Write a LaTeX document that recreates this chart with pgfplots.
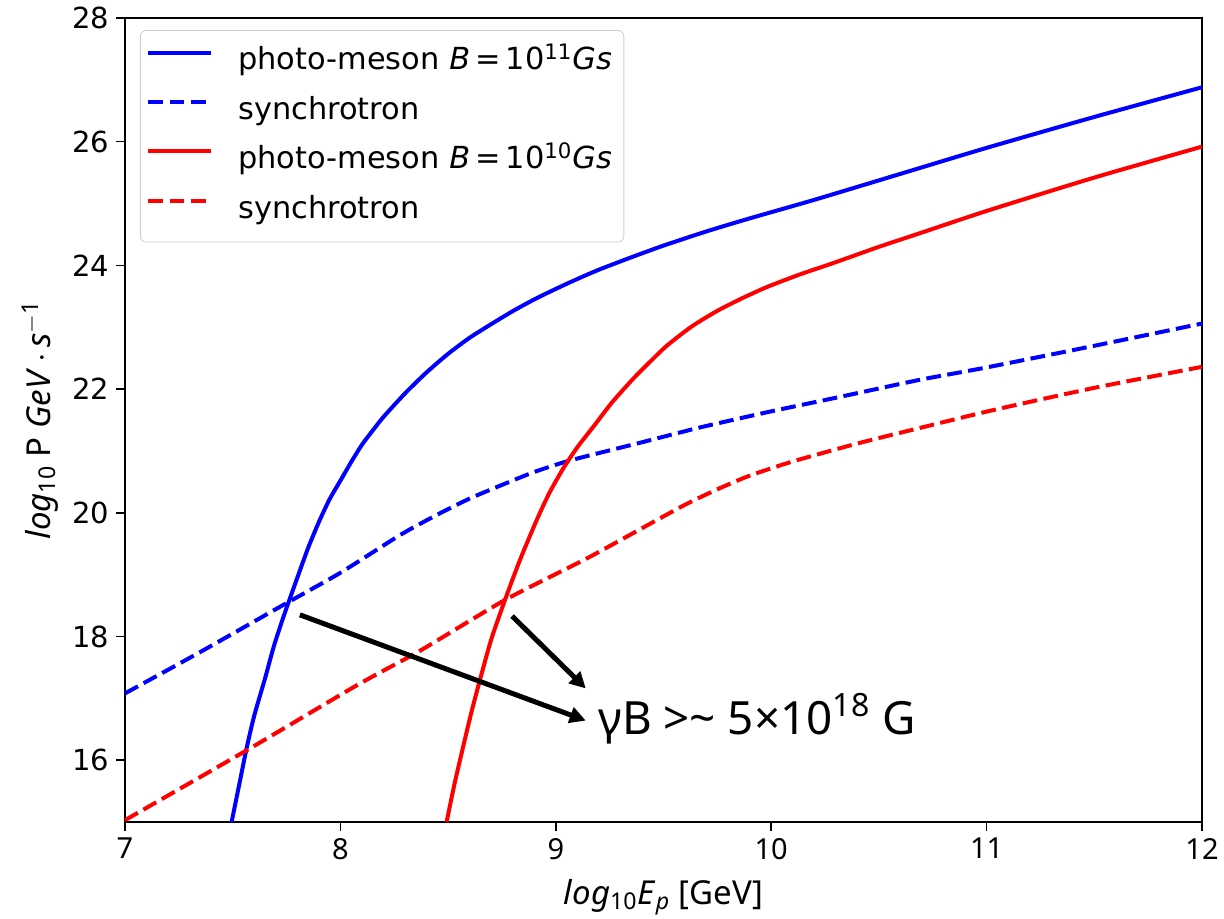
\documentclass[border=0pt]{standalone}
\usepackage{fontspec}
\setmainfont{DejaVu Sans}
\newfontfamily\notosans{Noto Sans}
\usepackage{pgfplots}
\pgfplotsset{compat=1.18}
\usetikzlibrary{arrows.meta}
\begin{document}
\begin{tikzpicture}
\path[use as bounding box] (-62.5pt,-48pt) rectangle (549.5pt,411pt);
\begin{axis}[
  scale only axis, width=538.5pt, height=402pt,
  xmin=7, xmax=12, ymin=15, ymax=28,
  xtick={7,8,9,10,11,12}, ytick={16,18,20,22,24,26,28},
  tick align=outside, xtick pos=bottom, ytick pos=left,
  major tick length=4.5pt,
  every tick/.style={black, line width=0.8pt},
  axis line style={line width=0.8pt},
  /pgf/number format/assume math mode=true,
  yticklabel style={font=\fontsize{14.5}{14.5}\selectfont},
  xticklabel style={font=\notosans\fontsize{14.5}{14.5}\selectfont},
  xlabel={\notosans\fontsize{16.5}{16.5}\selectfont\textit{log}\textsubscript{10}\textit{E}\textsubscript{\textit{p}} [GeV]},
  ylabel={\notosans\fontsize{16.5}{16.5}\selectfont\textit{log}\textsubscript{10} P \textit{GeV}\,$\cdot$\,\textit{s}\textsuperscript{$-$1}},
  xlabel style={at={(axis description cs:0.5,-0.0935)}, anchor=center},
  ylabel style={at={(axis description cs:-0.0789,0.5)}, anchor=center},
  legend style={at={(0.0139,0.985)}, anchor=north west, draw=black!20, rounded corners=3pt,
    fill=white, fill opacity=0.8, text opacity=1, inner xsep=3pt, inner ysep=3.5pt,
    font=\fontsize{15.2}{17}\selectfont,
    nodes={inner xsep=3pt, inner ysep=5.2pt, text height=11pt, text depth=3.3pt}},
  legend cell align=left,
  legend image code/.code={\draw[#1] (0pt,4.8pt) -- (31.5pt,4.8pt); \path (41pt,4.8pt);},
]
\addplot[blue, line width=2pt, smooth, tension=0.4] coordinates {(7.495,15.0) (7.53,15.6) (7.565,16.2) (7.6,16.72) (7.65,17.32) (7.69,17.83) (7.73,18.26) (7.758,18.54) (7.8,18.95) (7.85,19.43) (7.9,19.85) (7.95,20.22) (8.0,20.52) (8.05,20.82) (8.1,21.1) (8.15,21.33) (8.2,21.55) (8.3,21.93) (8.4,22.27) (8.5,22.57) (8.6,22.83) (8.7,23.05) (8.8,23.26) (8.9,23.45) (9.0,23.62) (9.1,23.78) (9.2,23.93) (9.35,24.13) (9.5,24.32) (9.7,24.55) (9.9,24.76) (10.2,25.06) (10.6,25.48) (11.0,25.9) (11.5,26.4) (12.0,26.88)};
\addlegendentry{photo-meson \textit{B}\,=\,10\textsuperscript{11}\textit{Gs}}
\addplot[blue, line width=2pt, smooth, tension=0.4, dash pattern=on 7.4pt off 3.2pt] coordinates {(7.0,17.08) (7.35,17.75) (7.735,18.51) (8.0,19.03) (8.277,19.64) (8.45,19.97) (8.6,20.23) (8.75,20.45) (8.9,20.66) (9.05,20.83) (9.205,20.97) (9.4,21.14) (9.67,21.38) (10.0,21.64) (10.3,21.86) (10.69,22.15) (11.0,22.35) (11.5,22.7) (12.0,23.06)};
\addlegendentry{synchrotron}
\addplot[red, line width=2pt, smooth, tension=0.4] coordinates {(8.493,15.0) (8.53,15.62) (8.57,16.22) (8.61,16.8) (8.648,17.3) (8.7,17.95) (8.764,18.59) (8.834,19.24) (8.911,19.88) (8.97,20.32) (9.035,20.72) (9.1,21.06) (9.174,21.39) (9.26,21.78) (9.36,22.17) (9.44,22.45) (9.515,22.7) (9.63,23.01) (9.747,23.26) (9.86,23.46) (9.98,23.65) (10.13,23.85) (10.29,24.04) (10.5,24.3) (10.69,24.52) (11.0,24.88) (11.5,25.42) (12.0,25.92)};
\addlegendentry{photo-meson \textit{B}\,=\,10\textsuperscript{10}\textit{Gs}}
\addplot[red, line width=2pt, smooth, tension=0.4, dash pattern=on 7.4pt off 3.2pt] coordinates {(7.0,15.03) (7.58,16.19) (8.076,17.21) (8.37,17.77) (8.764,18.59) (9.143,19.26) (9.4,19.75) (9.6,20.13) (9.75,20.38) (9.9,20.6) (10.1,20.83) (10.4,21.12) (10.7,21.38) (11.03,21.66) (11.5,22.02) (12.0,22.36)};
\addlegendentry{synchrotron}
\draw[-{Triangle[length=8pt,width=8pt]}, line width=2.5pt] (axis cs:7.812,18.35) -- (axis cs:9.139,16.64);
\draw[-{Triangle[length=8pt,width=8pt]}, line width=2.5pt] (axis cs:8.797,18.33) -- (axis cs:9.139,17.16);
\node[anchor=base west, inner sep=0pt, font=\notosans\fontsize{22.9}{22.9}\selectfont] at (axis cs:9.196,16.41) {γB >\char"007E\ 5×10\textsuperscript{18} G};
\end{axis}
\end{tikzpicture}
\end{document}
